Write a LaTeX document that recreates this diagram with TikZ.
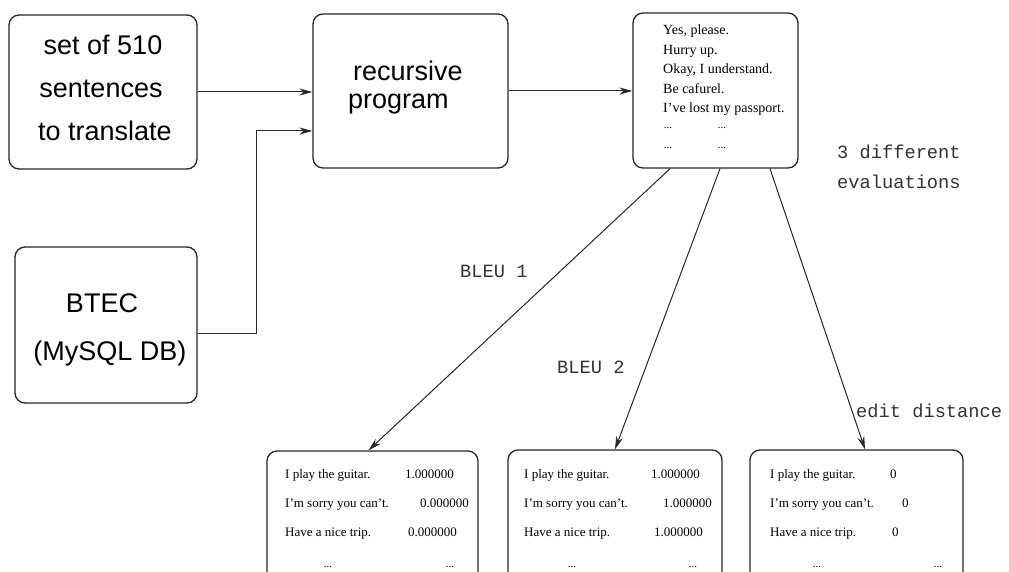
\documentclass[tikz,border=0pt]{standalone}
\usepackage{fontspec}
\setmainfont{Liberation Serif}
\setsansfont{Liberation Sans}
\setmonofont{Liberation Mono}
\usetikzlibrary{arrows.meta}
\begin{document}
\begin{tikzpicture}[x=1pt,y=-1pt,
  box/.style={draw=black!85, line width=1.3pt, rounded corners=10pt, inner sep=0pt},
  big/.style={font=\sffamily\fontsize{27}{43}\selectfont, inner sep=0pt, anchor=base},
  sm/.style={font=\fontsize{14}{17}\selectfont, inner sep=0pt, anchor=base west},
  dots/.style={font=\fontsize{11}{13}\selectfont, inner sep=0pt, anchor=base},
  row/.style={font=\fontsize{13}{16}\selectfont, inner sep=0pt, anchor=base west},
  lab/.style={font=\ttfamily\fontsize{18.7}{23}\selectfont, text=black!80, inner sep=0pt, anchor=base west},
  arr/.style={draw=black!85, line width=1pt, -{Stealth[length=13pt,width=7pt]}}]
\useasboundingbox (0,0) rectangle (1009,572);
\clip (0,0) rectangle (1009,572);
\fill[white] (0,0) rectangle (1009,572);

% boxes
\node[box, minimum width=188pt, minimum height=154pt] (b1) at (103,92) {};
\node[box, minimum width=182pt, minimum height=156pt] (btec) at (106,325) {};
\node[box, minimum width=195pt, minimum height=154pt] (prog) at (410.5,91) {};
\node[box, minimum width=165pt, minimum height=155pt] (out) at (715.5,90.5) {};
\node[box, minimum width=211pt, minimum height=150pt] (bA) at (372.5,526) {};
\node[box, minimum width=214pt, minimum height=151pt] (bB) at (615,525.5) {};
\node[box, minimum width=213pt, minimum height=151pt] (bC) at (856.5,525.5) {};

% big sans texts
\node[big] (t1a) at (103,55) {set of 510};
\node[big] (t1b) at (101,98) {sentences};
\node[big] (t1c) at (105,141) {to translate};
\node[big] (t2a) at (102,312) {BTEC};
\node[big] (t2b) at (110,360) {(MySQL DB)};
\node[big, anchor=base west] (t3a) at (353,81) {recursive};
\node[big, anchor=base west] (t3b) at (348,109) {program};

% output box text
\node[sm] (o1) at (663,35) {Yes, please.};
\node[sm] (o2) at (663,54.5) {Hurry up.};
\node[sm] (o3) at (663,74) {Okay, I understand.};
\node[sm] (o4) at (663,93.5) {Be cafurel.};
\node[sm] (o5) at (663,113) {I've lost my passport.};
\node[dots] (o6a) at (668,129) {...};
\node[dots] (o6b) at (722,129) {...};
\node[dots] (o7a) at (668,149) {...};
\node[dots] (o7b) at (722,149) {...};

% box A
\node[row] (a1) at (285,478) {I play the guitar.};
\node[row] (a2) at (285,507) {I'm sorry you can't.};
\node[row] (a3) at (285,536) {Have a nice trip.};
\node[row] (an1) at (405,478) {1.000000};
\node[row] (an2) at (420,507) {0.000000};
\node[row] (an3) at (408,536) {0.000000};
\node[dots] (ad1) at (328,567) {...};
\node[dots] (ad2) at (450,567) {...};

% box B
\node[row] (b1r) at (524,478) {I play the guitar.};
\node[row] (b2r) at (524,507) {I'm sorry you can't.};
\node[row] (b3r) at (524,536) {Have a nice trip.};
\node[row] (bn1) at (651,478) {1.000000};
\node[row] (bn2) at (663,507) {1.000000};
\node[row] (bn3) at (654,536) {1.000000};
\node[dots] (bd1) at (572,567) {...};
\node[dots] (bd2) at (693,567) {...};

% box C
\node[row] (c1) at (770,478) {I play the guitar.};
\node[row] (c2) at (770,507) {I'm sorry you can't.};
\node[row] (c3) at (770,536) {Have a nice trip.};
\node[row] (cn1) at (890,478) {0};
\node[row] (cn2) at (902,507) {0};
\node[row] (cn3) at (892,536) {0};
\node[dots] (cd1) at (817,567) {...};
\node[dots] (cd2) at (938,567) {...};

% labels
\node[lab] (l1) at (837,159) {3 different};
\node[lab] (l2) at (837,188.5) {evaluations};
\node[lab] (l3) at (460,277.5) {BLEU 1};
\node[lab] (l4) at (557,373.5) {BLEU 2};
\node[lab] (l5) at (856,417) {edit distance};

% connectors
\draw[arr] (b1.east) -- (b1.east -| prog.west);
\coordinate (bend) at (256,333);
\draw[arr] (btec.east |- bend) -- (bend) |- ([yshift=-40pt]prog.west);
\draw[arr] (prog.east) -- (prog.east -| out.west);
\draw[arr] ([xshift=-45.5pt]out.south) -- ([xshift=-4pt]bA.north);
\draw[arr] ([xshift=4.5pt]out.south) -- (bB.north);
\draw[arr] ([xshift=54.5pt]out.south) -- ([xshift=8.5pt]bC.north);
\end{tikzpicture}
\end{document}
